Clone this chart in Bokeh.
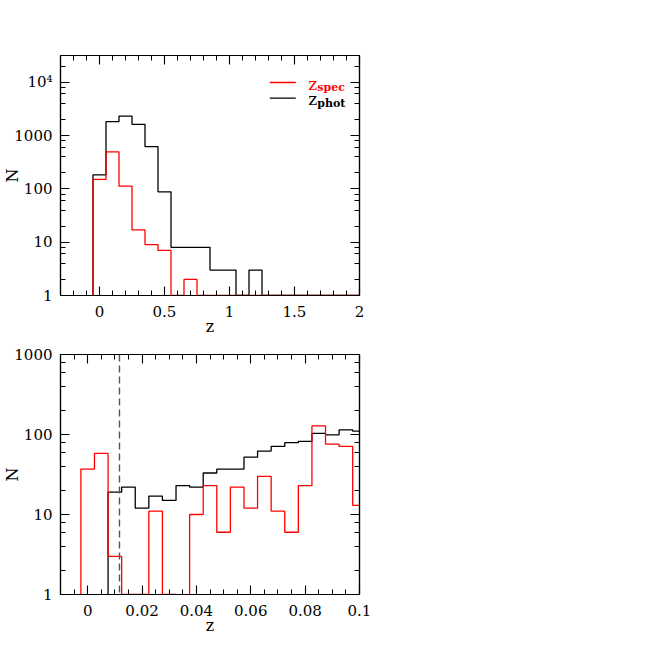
import numpy as np
from bokeh.plotting import figure
from bokeh.models import (Range1d, LinearAxis, LogAxis, SingleIntervalTicker, LogTicker,
                          CustomJSTickFormatter, CustomLabelingPolicy, Span)
from bokeh.layouts import column
from bokeh.embed import file_html
from bokeh.resources import INLINE
from bokeh.core.properties import value

# ---------------- data ----------------
# top panel: bins of width 0.1 centred on these z values
top_bin_centers = [0.0, 0.1, 0.2, 0.3, 0.4, 0.5, 0.6, 0.7, 0.8, 0.9, 1.0,
                   1.1, 1.2, 1.3, 1.4, 1.5, 1.6, 1.7, 1.8, 1.9, 2.0]
top_bin_width = 0.1
top_phot_counts = [183, 1820, 2300, 1620, 620, 88, 8, 8, 8, 3, 3,
                   0, 3, 0, 0, 0, 0, 0, 0, 0, 0]
top_spec_counts = [150, 495, 112, 17, 9, 7, 0, 2, 0, 0, 0,
                   0, 0, 0, 0, 0, 0, 0, 0, 0, 0]

# bottom panel: bins of width 0.005
bot_bin_centers = [0.0, 0.005, 0.01, 0.015, 0.02, 0.025, 0.03, 0.035, 0.04, 0.045,
                   0.05, 0.055, 0.06, 0.065, 0.07, 0.075, 0.08, 0.085, 0.09, 0.095, 0.1]
bot_bin_width = 0.005
bot_phot_counts = [0, 0, 19, 22, 12, 17, 15, 23, 22, 33,
                   37, 37, 52, 62, 71, 79, 82, 103, 99, 114, 110]
bot_spec_counts = [37, 58, 3, 1, 1, 11, 1, 0, 10, 23,
                   6, 22, 12, 30, 11, 6, 23, 128, 76, 71, 13]

z_cut = 0.0117

legend_main = ["z", "z"]
legend_sub = ["spec", "phot"]
legend_colors = ["#ff0000", "#000000"]

FONT = "DejaVu Serif"


def step_xy(centers, counts, width, zero_val):
    xs, ys = [], []
    xs.append(centers[0] - width / 2.0)
    ys.append(zero_val)
    for c, n in zip(centers, counts):
        v = n if n > 0 else zero_val
        xs += [c - width / 2.0, c + width / 2.0]
        ys += [v, v]
    xs.append(centers[-1] + width / 2.0)
    ys.append(zero_val)
    return xs, ys


def style_axis(ax):
    ax.major_tick_in = 9
    ax.major_tick_out = 0
    ax.minor_tick_in = 5
    ax.minor_tick_out = 0
    ax.axis_line_color = "black"
    ax.axis_line_width = 1.2
    ax.major_tick_line_color = "black"
    ax.minor_tick_line_color = "black"
    ax.major_tick_line_width = 1.1
    ax.minor_tick_line_width = 1.0
    ax.major_label_text_font = FONT
    ax.major_label_text_font_size = "15px"
    ax.major_label_text_color = "black"
    ax.axis_label_text_font = FONT
    ax.axis_label_text_font_style = "normal"
    ax.axis_label_text_font_size = "16px"
    ax.axis_label_text_color = "black"


xfmt = CustomJSTickFormatter(code="return String(parseFloat(tick.toFixed(4)));")
yfmt = CustomJSTickFormatter(code="return tick >= 9999 ? '10\u2074' : String(Math.round(tick));")
no_labels = CustomLabelingPolicy(code="for (let i = 0; i < indices.size; i++) { indices.unset(i) } return indices")


def make_panel(xr, yr, x_interval, x_minor, mb_top, mb_bottom):
    p = figure(x_range=Range1d(*xr), y_range=Range1d(*yr), y_axis_type="log",
               frame_width=299, frame_height=240, output_backend="svg",
               toolbar_location=None, min_border_left=53, min_border_right=22,
               min_border_top=mb_top, min_border_bottom=mb_bottom)
    p.grid.visible = False
    p.outline_line_color = "black"
    p.outline_line_width = 1.2
    p.background_fill_color = "white"
    p.border_fill_color = "white"

    p.xaxis.ticker = SingleIntervalTicker(interval=x_interval, num_minor_ticks=x_minor)
    p.xaxis.formatter = xfmt
    p.yaxis.ticker = LogTicker()
    p.yaxis.formatter = yfmt
    p.xaxis.axis_label = "z"
    p.yaxis.axis_label = "N"
    for ax in p.xaxis:
        style_axis(ax)
        ax.major_label_standoff = 10
        ax.axis_label_standoff = -3
    for ax in p.yaxis:
        style_axis(ax)
        ax.major_label_standoff = 8
        ax.axis_label_standoff = -11

    top_ax = LinearAxis(ticker=SingleIntervalTicker(interval=x_interval, num_minor_ticks=x_minor),
                        major_label_policy=no_labels)
    style_axis(top_ax)
    top_ax.major_label_standoff = 0
    p.add_layout(top_ax, "above")
    right_ax = LogAxis(ticker=LogTicker(), major_label_policy=no_labels)
    style_axis(right_ax)
    right_ax.major_label_standoff = 0
    p.add_layout(right_ax, "right")
    return p


# ---------------- top panel ----------------
p1 = make_panel((-0.3, 2.0), (1, 10 ** 4.5), 0.5, 5, 55, 30)
xs, ys = step_xy(top_bin_centers, top_phot_counts, top_bin_width, 1)
p1.line(xs, ys, line_color="#000000", line_width=1.3)
xs, ys = step_xy(top_bin_centers, top_spec_counts, top_bin_width, 1)
p1.line(xs, ys, line_color="#ff0000", line_width=1.3)

# legend (positions in data coordinates)
leg_line_y = [9860, 5000]
leg_z_y = [9440, 4732]
leg_sub_y = [7943, 3981]
p1.segment(x0=[1.31, 1.31], y0=leg_line_y, x1=[1.51, 1.51], y1=leg_line_y,
           line_color=legend_colors, line_width=1.3)
p1.text(x=[1.605, 1.605], y=leg_z_y, text=legend_main, text_color=legend_colors,
        text_font=value(FONT), text_font_size="17px", text_baseline="alphabetic")
p1.text(x=[1.675, 1.675], y=leg_sub_y, text=legend_sub, text_color=legend_colors,
        text_font=value(FONT), text_font_size="11px", text_font_style="bold",
        text_baseline="alphabetic")

# ---------------- bottom panel ----------------
p2 = make_panel((-0.01, 0.1), (1, 1000), 0.02, 4, 16, 40)
xs, ys = step_xy(bot_bin_centers, bot_phot_counts, bot_bin_width, 1e-3)
p2.line(xs, ys, line_color="#000000", line_width=1.3)
xs, ys = step_xy(bot_bin_centers, bot_spec_counts, bot_bin_width, 1e-3)
p2.line(xs, ys, line_color="#ff0000", line_width=1.3)
p2.add_layout(Span(location=z_cut, dimension="height", line_color="#555555",
                   line_dash="7 4", line_width=1.4))

layout = column(p1, p2, spacing=0)
open("out.html", "w").write(file_html(layout, INLINE))
